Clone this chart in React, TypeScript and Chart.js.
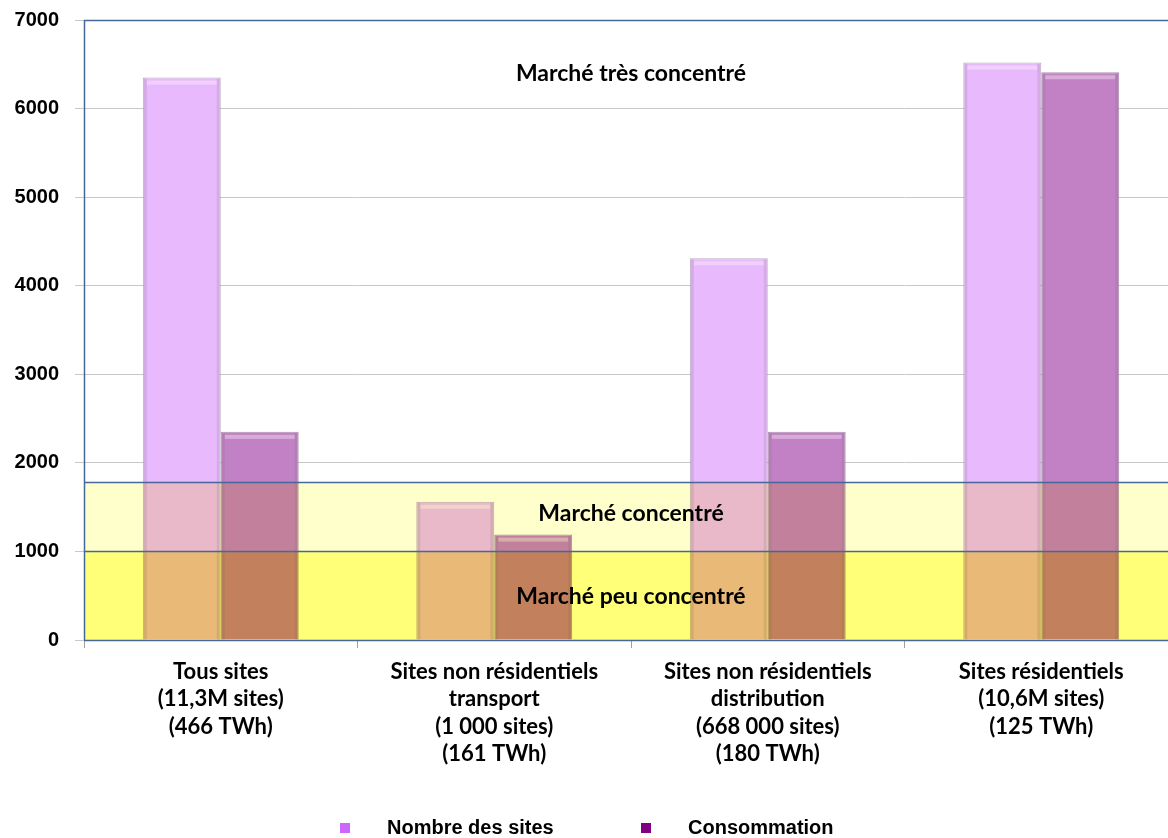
import React, { useEffect, useRef } from "react";
import { Chart, registerables } from "chart.js";

Chart.register(...registerables);

const categories: string[][] = [
  ["Tous sites", "(11,3M sites)", "(466 TWh)"],
  ["Sites non résidentiels", "transport", "(1 000 sites)", "(161 TWh)"],
  ["Sites non résidentiels", "distribution", "(668 000 sites)", "(180 TWh)"],
  ["Sites résidentiels", "(10,6M sites)", "(125 TWh)"],
];
const seriesNames = ["Nombre des sites", "Consommation"];
const nombreSites = [6350, 1560, 4310, 6520];
const consommation = [2350, 1190, 2350, 6410];
const yMin = 0;
const yMax = 7000;
const yStep = 1000;
const bandLimits = [0, 1000, 1780];
const bandLabels = ["Marché peu concentré", "Marché concentré", "Marché très concentré"];

const BAR_FILL = ["#E9B9FD", "#C280C5"];
const LEGEND_FILL = ["#CC66FF", "#800080"];
const BAND_FILL = ["#FFFF78", "#FFFFCC"];
const FRAME = "#45679A";
const CAL = "Lato, 'Open Sans', sans-serif";
const ARIAL = "'Liberation Sans', Arial, sans-serif";

const overlayPlugin = {
  id: "bandsOverlay",
  afterDatasetsDraw(chart: any) {
    const { ctx, chartArea, scales } = chart;
    const y = scales.y;
    const l = chartArea.left;
    const r = chartArea.right;
    ctx.save();
    chart.data.datasets.forEach((ds: any, di: number) => {
      const meta = chart.getDatasetMeta(di);
      meta.data.forEach((bar: any) => {
        const w = bar.width;
        const x0 = bar.x - w / 2;
        ctx.fillStyle = "rgba(255,255,255,0.35)";
        ctx.fillRect(x0 + 4, bar.y + 3, w - 8, 4);
        ctx.fillStyle = "rgba(120,110,120,0.18)";
        ctx.fillRect(x0 + 1, bar.y + 1, 3, bar.base - bar.y - 1);
        ctx.fillRect(x0 + w - 4, bar.y + 1, 3, bar.base - bar.y - 1);
      });
    });
    ctx.globalCompositeOperation = "multiply";
    const y0 = y.getPixelForValue(bandLimits[0]);
    const y1 = y.getPixelForValue(bandLimits[1]);
    const y2 = y.getPixelForValue(bandLimits[2]);
    ctx.fillStyle = BAND_FILL[0];
    ctx.fillRect(l, y1, r - l, y0 - y1);
    ctx.fillStyle = BAND_FILL[1];
    ctx.fillRect(l, y2, r - l, y1 - y2);
    ctx.globalCompositeOperation = "source-over";
    ctx.strokeStyle = FRAME;
    ctx.lineWidth = 1.5;
    [y0, y1, y2].forEach((p) => {
      ctx.beginPath();
      ctx.moveTo(l, Math.round(p) + 0.5);
      ctx.lineTo(r, Math.round(p) + 0.5);
      ctx.stroke();
    });
    ctx.beginPath();
    ctx.moveTo(l, chartArea.top + 0.5);
    ctx.lineTo(r, chartArea.top + 0.5);
    ctx.moveTo(l + 0.5, chartArea.top);
    ctx.lineTo(l + 0.5, chartArea.bottom);
    ctx.stroke();
    const cx = (l + r) / 2;
    ctx.fillStyle = "#000";
    ctx.font = `bold 23px ${CAL}`;
    ctx.textAlign = "center";
    ctx.textBaseline = "middle";
    ctx.fillText(bandLabels[0], cx, y.getPixelForValue((bandLimits[0] + bandLimits[1]) / 2) + 1);
    ctx.fillText(bandLabels[1], cx, y.getPixelForValue((bandLimits[1] + bandLimits[2]) / 2) - 3);
    ctx.fillText(bandLabels[2], cx, chartArea.top + 54);
    ctx.restore();
  },
  afterDraw(chart: any) {
    const { ctx } = chart;
    ctx.save();
    ctx.font = `bold 20px ${ARIAL}`;
    ctx.textBaseline = "middle";
    ctx.textAlign = "left";
    const items = [
      { mx: 340, tx: 387 },
      { mx: 641, tx: 688 },
    ];
    items.forEach((it, i) => {
      ctx.fillStyle = LEGEND_FILL[i];
      ctx.fillRect(it.mx, 823, 10, 10);
      ctx.fillStyle = "#000";
      ctx.fillText(seriesNames[i], it.tx, 828);
    });
    ctx.restore();
  },
};

export default function App() {
  const ref = useRef<HTMLCanvasElement>(null);
  useEffect(() => {
    document.body.style.margin = "0";
    document.body.style.overflow = "hidden";
    const chart = new Chart(ref.current as HTMLCanvasElement, {
      type: "bar",
      data: {
        labels: categories,
        datasets: [
          {
            label: seriesNames[0],
            data: nombreSites,
            backgroundColor: BAR_FILL[0],
            borderColor: "rgba(170,150,180,0.8)",
            borderWidth: 1,
            categoryPercentage: 0.57,
            barPercentage: 1,
          },
          {
            label: seriesNames[1],
            data: consommation,
            backgroundColor: BAR_FILL[1],
            borderColor: "rgba(150,120,150,0.8)",
            borderWidth: 1,
            categoryPercentage: 0.57,
            barPercentage: 1,
          },
        ],
      },
      options: {
        responsive: false,
        animation: false,
        layout: { padding: { top: 20, right: 2, left: 0, bottom: 0 } },
        plugins: {
          legend: { display: false },
          tooltip: { enabled: false },
        },
        scales: {
          x: {
            offset: true,
            grid: {
              display: true,
              offset: true,
              drawOnChartArea: false,
              tickLength: 8,
              color: "#A0A0A0",
            },
            border: { display: true, color: "#A0A0A0" },
            ticks: {
              color: "#000",
              font: { family: CAL, size: 22, weight: "bold", lineHeight: 1.25 },
              padding: 10,
              maxRotation: 0,
              autoSkip: false,
            },
            afterFit: (s: any) => {
              s.height = 198;
            },
          },
          y: {
            min: yMin,
            max: yMax,
            ticks: {
              stepSize: yStep,
              color: "#000",
              font: { family: ARIAL, size: 20, weight: "bold" },
              padding: 16,
              callback: (v: any) => String(v),
            },
            grid: { color: "#C8C8C8", tickLength: 9, lineWidth: 1 },
            border: { display: false },
            afterFit: (s: any) => {
              s.width = 84;
              s.paddingTop = 0;
              s.paddingBottom = 0;
            },
          },
        },
      },
      plugins: [overlayPlugin],
    });
    return () => chart.destroy();
  }, []);
  return (
    <div style={{ width: 1180, height: 838, overflow: "hidden" }}>
      <canvas ref={ref} width={1180} height={838} />
    </div>
  );
}
